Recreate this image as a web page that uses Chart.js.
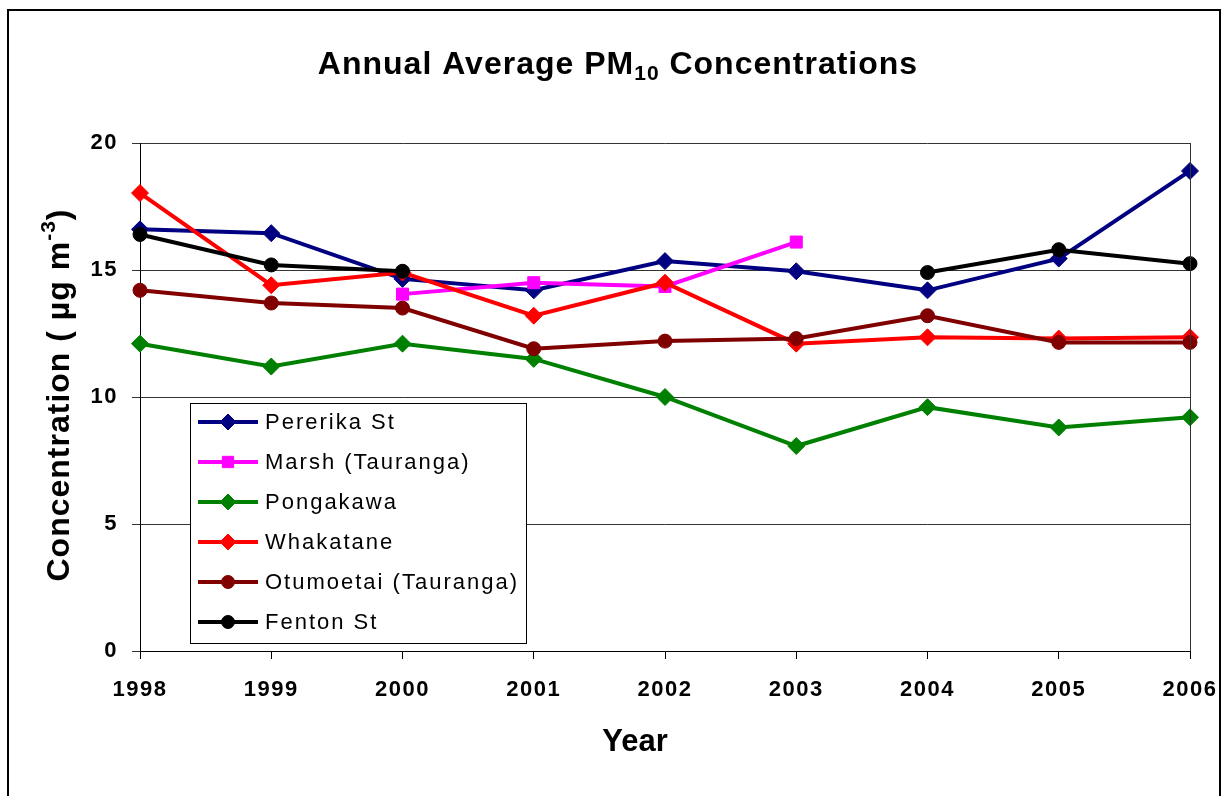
<!DOCTYPE html>
<html>
<head>
<meta charset="utf-8">
<script src="https://cdn.jsdelivr.net/npm/chart.js@4.4.1/dist/chart.umd.min.js"></script>
<style>
  html, body { margin: 0; padding: 0; background: #fff; }
  #wrap { width: 1226px; height: 796px; position: relative; }
</style>
</head>
<body>
<div id="wrap"><canvas id="pmChart" width="1226" height="796"></canvas></div>
<script>
// Data
const years = ['1998', '1999', '2000', '2001', '2002', '2003', '2004', '2005', '2006'];
const pererika  = [16.6, 16.45, 14.65, 14.2, 15.35, 14.95, 14.2, 15.45, 18.9];
const marsh     = [null, null, 14.05, 14.5, 14.35, 16.1, null, null, null];
const pongakawa = [12.1, 11.2, 12.1, 11.5, 10.0, 8.07, 9.6, 8.8, 9.2];
const whakatane = [18.03, 14.4, 14.9, 13.2, 14.5, 12.1, 12.35, 12.3, 12.35];
const otumoetai = [14.2, 13.7, 13.5, 11.9, 12.2, 12.3, 13.2, 12.15, 12.15];
const fenton    = [16.4, 15.2, 14.95, null, null, null, 14.9, 15.8, 15.25];
const yMin = 0, yMax = 20, yStep = 5;

const FONT = '"Liberation Sans", Arial, sans-serif';

function series(label, data, color, style, order) {
    let r = 7;
    if (style === 'rect') r = 8.5;
    if (style === 'rectRot') r = 8.5;
    return {
        label: label,
        data: data,
        borderColor: color,
        backgroundColor: color,
        borderWidth: 4,
        pointStyle: style,
        pointRadius: r,
        pointBorderWidth: 1,
        pointBackgroundColor: color,
        pointBorderColor: color,
        spanGaps: false,
        tension: 0,
        order: order
    };
}

// Title, axis titles, frame and legend are drawn here (subscripts etc.)
const decorPlugin = {
    id: 'decor',
    beforeDraw(chart) {
        chart.ctx.letterSpacing = '1.5px';
    },
    afterDraw(chart) {
        const ctx = chart.ctx;
        const area = chart.chartArea;
        ctx.save();

        // outer frame
        ctx.strokeStyle = '#000';
        ctx.lineWidth = 2;
        ctx.strokeRect(8, 10, 1212, 800);

        // right edge of plot area
        ctx.lineWidth = 1;
        ctx.strokeStyle = '#333';
        ctx.beginPath();
        ctx.moveTo(Math.round(area.right) + 0.5, area.top);
        ctx.lineTo(Math.round(area.right) + 0.5, area.bottom);
        ctx.stroke();

        // title with subscript
        ctx.letterSpacing = '1px';
        ctx.fillStyle = '#000';
        ctx.textBaseline = 'alphabetic';
        ctx.textAlign = 'left';
        const big = 'bold 32px ' + FONT;
        const small = 'bold 21px ' + FONT;
        const t1 = 'Annual Average PM', t2 = '10', t3 = ' Concentrations';
        ctx.font = big;
        const w1 = ctx.measureText(t1).width, w3 = ctx.measureText(t3).width;
        ctx.font = small;
        const w2 = ctx.measureText(t2).width;
        let x = 618 - (w1 + w2 + w3) / 2;
        const by = 74;
        ctx.font = big; ctx.fillText(t1, x, by); x += w1;
        ctx.font = small; ctx.fillText(t2, x, by + 6); x += w2;
        ctx.font = big; ctx.fillText(t3, x, by);

        // y axis title, rotated, with superscript
        ctx.save();
        ctx.translate(69, 395);
        ctx.rotate(-Math.PI / 2);
        const y1 = 'Concentration ( \u00b5g m', y2 = '-3', y3 = ')';
        ctx.font = big;
        const a1 = ctx.measureText(y1).width, a3 = ctx.measureText(y3).width;
        ctx.font = small;
        const a2 = ctx.measureText(y2).width;
        let yx = -(a1 + a2 + a3) / 2;
        ctx.font = big; ctx.fillText(y1, yx, 0); yx += a1;
        ctx.font = small; ctx.fillText(y2, yx, -14); yx += a2;
        ctx.font = big; ctx.fillText(y3, yx, 0);
        ctx.restore();

        // x axis title
        ctx.letterSpacing = '0px';
        ctx.font = 'bold 31px ' + FONT;
        ctx.textAlign = 'center';
        ctx.fillText('Year', 635, 751);

        // legend
        const lx = 190, ly = 403, lw = 336, lh = 240;
        ctx.fillStyle = '#fff';
        ctx.fillRect(lx, ly, lw, lh);
        ctx.strokeStyle = '#000';
        ctx.lineWidth = 1;
        ctx.strokeRect(lx + 0.5, ly + 0.5, lw, lh);
        ctx.font = '22px ' + FONT;
        ctx.letterSpacing = '2px';
        ctx.textAlign = 'left';
        ctx.textBaseline = 'middle';
        chart.data.datasets.forEach((ds, i) => {
            const cy = ly + 19 + i * 40;
            ctx.strokeStyle = ds.borderColor;
            ctx.lineWidth = 4;
            ctx.beginPath();
            ctx.moveTo(lx + 8, cy);
            ctx.lineTo(lx + 68, cy);
            ctx.stroke();
            ctx.fillStyle = ds.pointBackgroundColor;
            ctx.strokeStyle = ds.pointBorderColor;
            ctx.lineWidth = 1;
            Chart.helpers.drawPoint(ctx, {
                pointStyle: ds.pointStyle,
                radius: ds.pointRadius - 0.5,
                rotation: 0,
                borderWidth: 1
            }, lx + 38, cy);
            ctx.fillStyle = '#000';
            ctx.fillText(ds.label, lx + 75, cy + 1);
        });
        ctx.restore();
    }
};

const ctx = document.getElementById('pmChart').getContext('2d');
new Chart(ctx, {
    type: 'line',
    data: {
        labels: years,
        datasets: [
            series('Pererika St', pererika, '#000080', 'rectRot', 5),
            series('Marsh (Tauranga)', marsh, '#FF00FF', 'rect', 4),
            series('Pongakawa', pongakawa, '#008000', 'rectRot', 3),
            series('Whakatane', whakatane, '#FF0000', 'rectRot', 2),
            series('Otumoetai (Tauranga)', otumoetai, '#800000', 'circle', 1),
            series('Fenton St', fenton, '#000000', 'circle', 0)
        ]
    },
    options: {
        responsive: false,
        animation: false,
        devicePixelRatio: 1,
        layout: { padding: { top: 143, right: 36, left: 0, bottom: 0 } },
        plugins: {
            legend: { display: false },
            title: { display: false },
            tooltip: { enabled: false }
        },
        scales: {
            x: {
                offset: false,
                grid: { drawOnChartArea: false, drawTicks: true, tickLength: 8, color: '#000' },
                border: { color: '#000', width: 1 },
                ticks: { color: '#000', font: { family: FONT, size: 22, weight: 'bold' }, padding: 18, maxRotation: 0 },
                afterFit(scale) {
                    scale.height = 145;
                    scale.paddingLeft = 0;
                    scale.paddingRight = 0;
                }
            },
            y: {
                min: yMin,
                max: yMax,
                grid: { color: '#333', lineWidth: 1, tickLength: 8 },
                border: { color: '#000', width: 1 },
                ticks: { stepSize: yStep, color: '#000', font: { family: FONT, size: 22, weight: 'bold' }, padding: 14 },
                afterFit(scale) {
                    scale.width = 140;
                    scale.paddingTop = 0;
                    scale.paddingBottom = 0;
                }
            }
        }
    },
    plugins: [decorPlugin]
});
</script>
</body>
</html>
